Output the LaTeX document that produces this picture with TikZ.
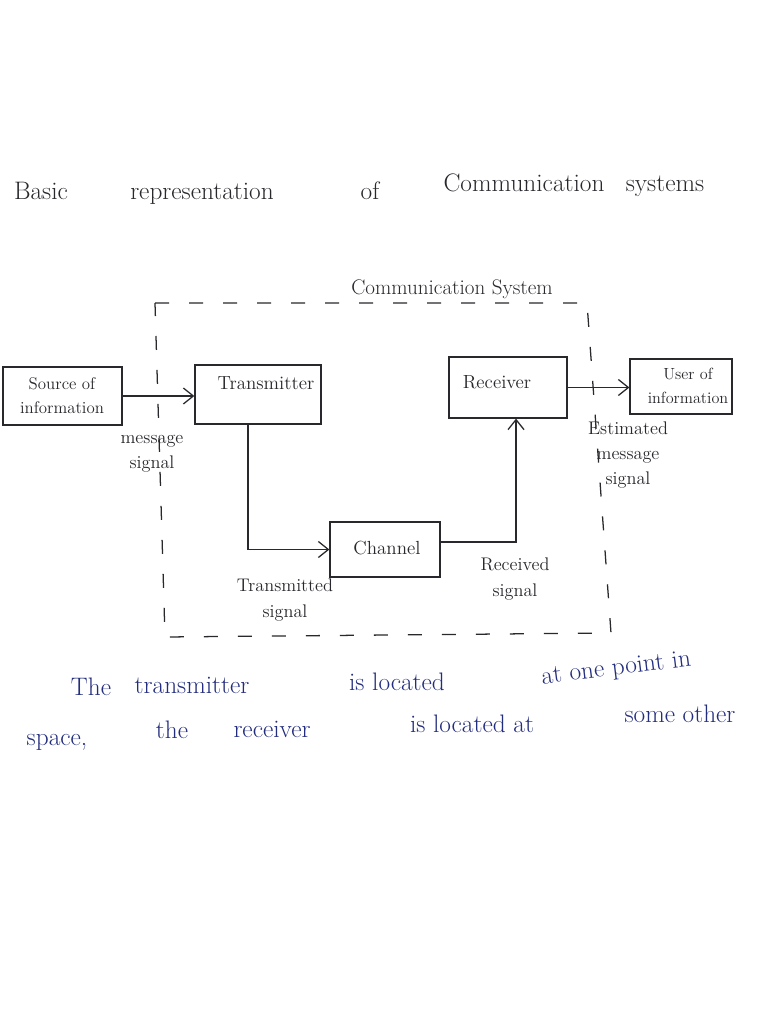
\documentclass[tikz,border=0pt]{standalone}
\usetikzlibrary{arrows.meta}
\definecolor{ink}{RGB}{40,40,45}
\definecolor{blueink}{RGB}{35,45,125}
\begin{document}
\begin{tikzpicture}[x=0.25mm,y=-0.25mm,
  box/.style={draw=ink, line width=0.9pt, inner sep=0pt, rectangle},
  conn/.style={draw=ink, line width=0.9pt},
  arr/.style={conn, -{Straight Barb[length=2.5mm,width=4mm]}},
  lbl/.style={text=ink, font=\fontsize{13}{18}\selectfont, inner sep=0pt, align=center},
  titleword/.style={text=ink, font=\fontsize{18}{20}\selectfont, inner sep=0pt, anchor=base},
  noteword/.style={text=blueink, font=\fontsize{18}{20}\selectfont, inner sep=0pt, anchor=base},
  sysline/.style={draw=ink, line width=0.9pt, dash pattern=on 3.5mm off 5mm}]
\fill[white] (0,0) rectangle (768,1024);
\useasboundingbox (0,0) rectangle (768,1024);

% title
\node[titleword] (t1) at (41,200) {Basic};
\node[titleword] (t2) at (202,200) {representation};
\node[titleword] (t3) at (370,200) {of};
\node[titleword] (t4) at (524,192) {Communication};
\node[titleword] (t5) at (665,192) {systems};

% communication system dashed boundary
\draw[sysline] (155,303) -- (587,303) -- (611,633) -- (165,637) -- cycle;
\node[text=ink, font=\fontsize{15}{17}\selectfont, inner sep=0pt, anchor=base] (sys) at (452,295) {Communication System};

% blocks
\node[box, minimum width=29.75mm, minimum height=14.5mm] (src) at (62.5,396) {};
\node[lbl, font=\fontsize{12}{17}\selectfont] (srct) at (62,396) {Source of\\information};
\node[box, minimum width=31.5mm, minimum height=14.75mm] (tx) at (258,394.5) {};
\node[lbl, font=\fontsize{13.5}{15}\selectfont] (txt) at (266,383) {Transmitter};
\node[box, minimum width=27.5mm, minimum height=13.75mm] (ch) at (385,549.5) {};
\node[lbl, font=\fontsize{13.5}{15}\selectfont] (cht) at (387,548) {Channel};
\node[box, minimum width=29.5mm, minimum height=15.25mm] (rx) at (508,387.5) {};
\node[lbl, font=\fontsize{13.5}{15}\selectfont] (rxt) at (497,382) {Receiver};
\node[box, minimum width=25.5mm, minimum height=13.75mm] (usr) at (681,386.5) {};
\node[lbl, font=\fontsize{11.5}{17}\selectfont] (usrt) at (688,386) {User of\\information};

% connectors
\draw[arr] (src.east) -- (src.east -| tx.west);
\draw[arr] ([xshift=-2.5mm]tx.south) |- (ch.west);
\draw[arr] ([yshift=1.9mm]ch.east) -| ([xshift=2mm]rx.south);
\draw[arr] (rx.east) -- (rx.east -| usr.west);

% signal labels
\node[lbl] (msg) at (152,454) {message\\signal};
\node[lbl] (tsig) at (285,600) {Transmitted\\signal};
\node[lbl] (rsig) at (515,579) {Received\\signal};
\node[lbl] (esig) at (628,455) {Estimated\\message\\signal};

% note
\node[noteword] (n1) at (91,695) {The};
\node[noteword] (n2) at (192,693) {transmitter};
\node[noteword] (n3) at (397,690) {is located};
\node[noteword, rotate=7] (n4) at (617,675) {at one point in};
\node[noteword] (n5) at (57,745) {space,};
\node[noteword] (n6) at (172,738) {the};
\node[noteword] (n7) at (272,737) {receiver};
\node[noteword] (n8) at (472,732) {is located at};
\node[noteword] (n9) at (680,722) {some other};
\end{tikzpicture}
\end{document}
